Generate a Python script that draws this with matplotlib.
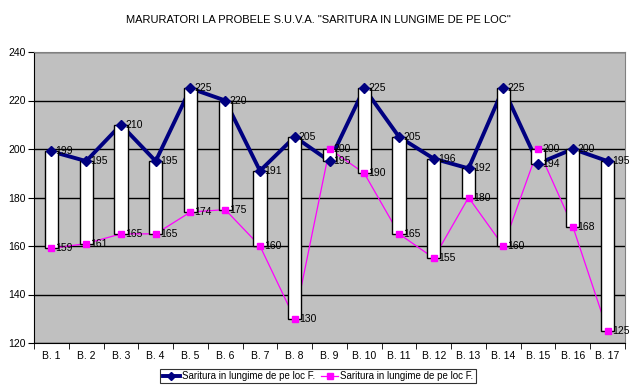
import matplotlib
matplotlib.use("Agg")
import matplotlib.pyplot as plt
import numpy as np

categories = ["B. %d" % i for i in range(1, 18)]
series_a = [199, 195, 210, 195, 225, 220, 191, 205, 195, 225, 205, 196, 192, 225, 194, 200, 195]
series_b = [159, 161, 165, 165, 174, 175, 160, 130, 200, 190, 165, 155, 180, 160, 200, 168, 125]
label_a = "Saritura in lungime de pe loc F."
label_b = "Saritura in lungime de pe loc F."
title = 'MARURATORI LA PROBELE S.U.V.A. "SARITURA IN LUNGIME DE PE LOC"'

plt.rcParams['font.family'] = ['Liberation Sans', 'DejaVu Sans']

fig = plt.figure(figsize=(6.36, 3.9), dpi=100)
ax = fig.add_axes([34/636, 1-343/390, (625-34)/636, (343-52)/390])
ax.set_facecolor('#C0C0C0')

x = np.arange(1, len(categories) + 1)
a = np.array(series_a)
b = np.array(series_b)
lo = np.minimum(a, b)
hi = np.maximum(a, b)

ax.bar(x, hi - lo, bottom=lo, width=0.38, color='white', edgecolor='black', linewidth=1.0, zorder=3)

ax.plot(x, a, color='#000080', linewidth=2.8, zorder=2)
ax.plot(x, b, color='#FF00FF', linewidth=0.9, zorder=2)
ax.plot(x, a, linestyle='none', marker='D', markersize=5, color='#000080', zorder=4)
ax.plot(x, b, linestyle='none', marker='s', markersize=4.5, color='#FF00FF', zorder=4)

for xi, v in zip(x, a):
    ax.text(xi + 0.12, v, str(v), fontsize=7.5, va='center', ha='left', zorder=5)
for xi, v in zip(x, b):
    ax.text(xi + 0.12, v, str(v), fontsize=7.5, va='center', ha='left', zorder=5)

ax.set_xlim(0.5, len(categories) + 0.5)
ax.set_ylim(120, 240)
ax.set_yticks(np.arange(120, 241, 20))
ax.yaxis.grid(True, color='black', linewidth=1.0)
ax.set_axisbelow(True)
ax.set_xticks(x)
ax.set_xticklabels(categories, fontsize=7.5)
ax.set_xticks(np.arange(0.5, len(categories) + 1, 1), minor=True)
ax.tick_params(axis='x', which='major', length=0, pad=6)
ax.tick_params(axis='x', which='minor', length=4, direction='out', color='black')
ax.tick_params(axis='y', length=4, direction='out', labelsize=7.5, pad=2)
for s in ['top', 'right']:
    ax.spines[s].set_color('#808080')
for s in ['left', 'bottom']:
    ax.spines[s].set_color('black')

fig.text(0.5, 1 - 20/390, title, ha='center', va='center', fontsize=8)

from matplotlib.lines import Line2D
handles = [Line2D([], [], color='#000080', linewidth=2.8, marker='D', markersize=4),
           Line2D([], [], color='#FF00FF', linewidth=0.9, marker='s', markersize=4)]
leg = fig.legend(handles, [label_a, label_b], loc='center', bbox_to_anchor=(0.5, 1 - 376/390),
                 ncol=2, fontsize=7, frameon=True, fancybox=False, handlelength=1.8,
                 handletextpad=0.2, columnspacing=0.6, borderpad=0.25)
leg.get_frame().set_edgecolor('black')
leg.get_frame().set_linewidth(0.8)

fig.savefig('out.png', dpi=100)
